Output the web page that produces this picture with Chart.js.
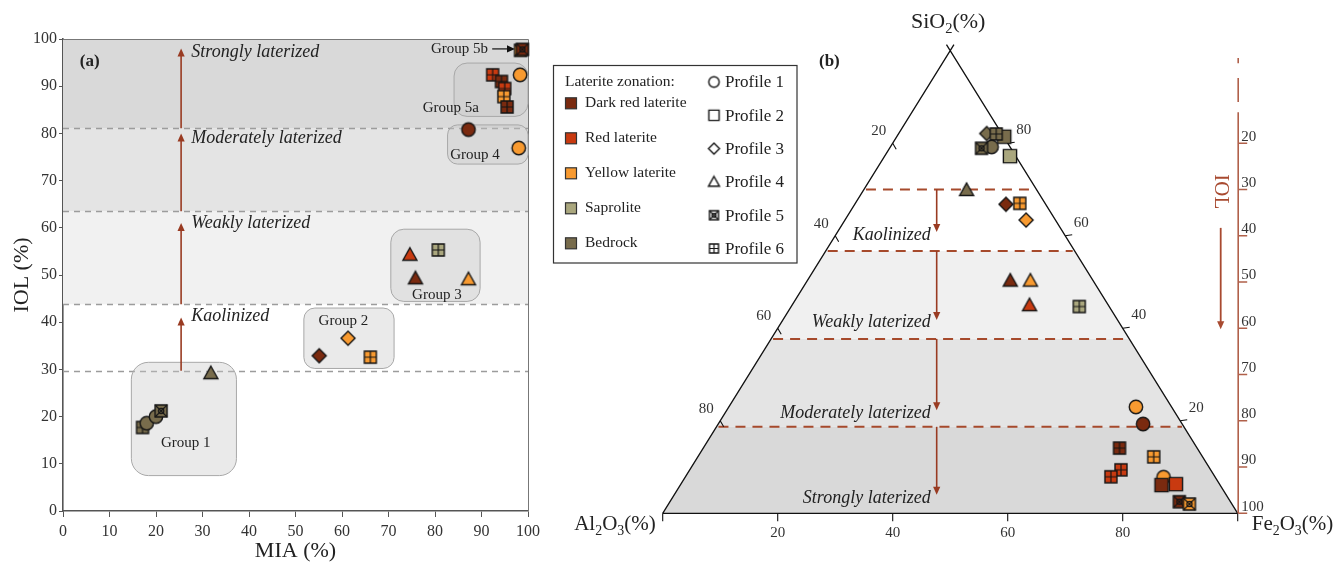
<!DOCTYPE html>
<html>
<head>
<meta charset="utf-8">
<script src="https://cdn.jsdelivr.net/npm/chart.js@4.4.1/dist/chart.umd.min.js"></script>
<style>
    body { margin: 0; background: #fff; }
    #wrap { position: relative; width: 1342px; height: 564px; }
    #boxA { position: absolute; left: 0; top: 0; width: 545px; height: 564px; }
    #boxB { position: absolute; left: 545px; top: 0; width: 797px; height: 564px; }
</style>
</head>
<body>
<div id="wrap">
    <div id="boxA"><canvas id="chartA"></canvas></div>
    <div id="boxB"><canvas id="chartB"></canvas></div>
</div>
<script>
const SERIF = '"Liberation Serif", "DejaVu Serif", serif';

// ---- legend categories ----
const zoneNames = ['Dark red laterite', 'Red laterite', 'Yellow laterite', 'Saprolite', 'Bedrock'];
const zoneColors = ['#7a2a0f', '#c93a10', '#f89a30', '#aaa77e', '#786c4c'];
const profileNames = ['Profile 1', 'Profile 2', 'Profile 3', 'Profile 4', 'Profile 5', 'Profile 6'];

// ---- (a) MIA vs IOL samples ----
const miaValues = [17.1, 18.0, 20.0, 21.1, 31.8, 55.1, 61.3, 66.1, 74.6, 80.7, 75.8, 87.2, 87.2, 98.0, 92.4, 94.3, 95.0, 94.8, 95.5, 98.3, 98.4, 98.8];
const iolValues = [17.7, 18.6, 20.0, 21.2, 29.2, 32.9, 36.6, 32.6, 54.3, 55.3, 49.3, 49.1, 80.8, 76.9, 92.4, 91.0, 89.5, 87.8, 85.6, 92.4, 97.6, 97.8];
const zoneA = [4, 4, 4, 4, 4, 0, 2, 2, 1, 3, 0, 2, 0, 2, 1, 0, 1, 2, 0, 2, 2, 0];
const profileA = [6, 1, 1, 5, 4, 3, 3, 6, 4, 6, 4, 4, 1, 1, 6, 6, 6, 6, 6, 1, 5, 5];

// ---- (b) ternary samples (SiO2, Fe2O3; Al2O3 is the rest) ----
const sio2Values = [81.4, 82.1, 82.0, 79.2, 78.9, 77.2, 69.9, 66.8, 67.0, 63.4, 50.3, 50.3, 45.0, 44.7, 23.0, 19.3, 14.1, 12.2, 9.4, 7.9, 7.8, 6.1, 6.3, 2.5, 2.0];
const fe2o3Values = [18.7, 15.3, 17.0, 17.6, 16.0, 21.8, 17.9, 26.3, 28.6, 31.5, 35.3, 38.8, 41.3, 50.1, 70.8, 73.9, 72.4, 79.3, 75.0, 74.0, 83.2, 83.7, 86.1, 88.6, 90.6];
const zoneB = [4, 4, 4, 4, 4, 3, 4, 0, 2, 2, 0, 2, 1, 3, 2, 0, 0, 2, 1, 1, 2, 0, 1, 0, 2];
const profileB = [2, 3, 6, 1, 5, 2, 4, 3, 6, 3, 4, 4, 4, 6, 1, 1, 6, 6, 6, 6, 1, 2, 2, 5, 5];

// ---- laterization zones (IOL %) ----
const zoneLabels = ['Kaolinized', 'Weakly laterized', 'Moderately laterized', 'Strongly laterized'];
const iolBoundsA = [29.7, 43.8, 63.5, 81.1];
const arrowEndsA = [41, 61, 80, 98];
const labelYA = [41.2, 61, 79, 97.2];
const iolBoundsB = [30, 43.3, 62.3, 81.3];
const arrowEndsB = [39.2, 58.2, 77.7, 96];
const labelYB = [39.8, 58.6, 78.3, 96.8];

const ternTicks = [20, 40, 60, 80];
const iolAxisTicks = [20, 30, 40, 50, 60, 70, 80, 90, 100];

// group outlines in panel (a), data units
const groupBoxes = [
    { label: 'Group 1', x0: 14.7, x1: 37.3, y0: 7.5, y1: 31.5, lx: 26.4, ly: 14.3, r: 17 },
    { label: 'Group 2', x0: 51.8, x1: 71.2, y0: 30.2, y1: 43.0, lx: 60.3, ly: 40.3, r: 11 },
    { label: 'Group 3', x0: 70.5, x1: 89.7, y0: 44.4, y1: 59.7, lx: 80.4, ly: 45.8, r: 13 },
    { label: 'Group 4', x0: 82.7, x1: 100, y0: 73.5, y1: 81.8, lx: 88.6, ly: 75.5, r: 10 },
    { label: 'Group 5a', x0: 84.1, x1: 100, y0: 83.6, y1: 94.9, lx: 83.4, ly: 85.4, r: 13 }
];

const BROWN = '#993b22';

/**
 * Build a marker image (profile shape filled with zone colour)
 */
function makeMarker(shape, fill, size) {
    const c = document.createElement('canvas');
    const dim = size + 4;
    c.width = c.height = dim;
    const g = c.getContext('2d');
    const m = dim / 2, h = size / 2;
    g.fillStyle = fill;
    g.strokeStyle = '#151515';
    g.lineWidth = 1.4;
    g.beginPath();
    let s = h - 1;
    if (shape === 1) {
        g.arc(m, m, h - 0.3, 0, Math.PI * 2);
    } else if (shape === 3) {
        g.moveTo(m, m - h); g.lineTo(m + h, m); g.lineTo(m, m + h); g.lineTo(m - h, m); g.closePath();
    } else if (shape === 4) {
        g.moveTo(m, m - h); g.lineTo(m + h, m + h * 0.78); g.lineTo(m - h, m + h * 0.78); g.closePath();
    } else {
        s = shape === 2 ? h - 0.4 : h - 1;
        g.rect(m - s, m - s, 2 * s, 2 * s);
    }
    g.fill();
    g.stroke();
    g.lineWidth = 1.2;
    if (shape === 6) {
        g.beginPath();
        g.moveTo(m, m - s); g.lineTo(m, m + s);
        g.moveTo(m - s, m); g.lineTo(m + s, m);
        g.stroke();
    } else if (shape === 5) {
        g.beginPath();
        g.moveTo(m - s, m - s); g.lineTo(m + s, m + s);
        g.moveTo(m + s, m - s); g.lineTo(m - s, m + s);
        g.stroke();
        g.beginPath();
        g.arc(m, m, s * 0.45, 0, Math.PI * 2);
        g.stroke();
    }
    return c;
}

function roundBox(ctx, x0, y0, x1, y1, r) {
    ctx.beginPath();
    ctx.moveTo(x0 + r, y0);
    ctx.arcTo(x1, y0, x1, y1, r);
    ctx.arcTo(x1, y1, x0, y1, r);
    ctx.arcTo(x0, y1, x0, y0, r);
    ctx.arcTo(x0, y0, x1, y0, r);
    ctx.closePath();
}

function arrow(ctx, x0, y0, x1, y1, color, lw) {
    const ang = Math.atan2(y1 - y0, x1 - x0);
    const hl = 8, hw = 3.6;
    ctx.strokeStyle = color;
    ctx.fillStyle = color;
    ctx.lineWidth = lw;
    ctx.setLineDash([]);
    ctx.beginPath();
    ctx.moveTo(x0, y0);
    ctx.lineTo(x1 - Math.cos(ang) * hl * 0.8, y1 - Math.sin(ang) * hl * 0.8);
    ctx.stroke();
    ctx.beginPath();
    ctx.moveTo(x1, y1);
    ctx.lineTo(x1 - Math.cos(ang) * hl - Math.sin(ang) * hw, y1 - Math.sin(ang) * hl + Math.cos(ang) * hw);
    ctx.lineTo(x1 - Math.cos(ang) * hl + Math.sin(ang) * hw, y1 - Math.sin(ang) * hl - Math.cos(ang) * hw);
    ctx.closePath();
    ctx.fill();
}

// text with subscripts: parts = [[text, isSub], ...]
function chemText(ctx, parts, x, y, size, align) {
    let w = 0;
    const widths = parts.map(([t, sub]) => {
        ctx.font = (sub ? size * 0.66 : size) + 'px ' + SERIF;
        const mw = ctx.measureText(t).width;
        w += mw;
        return mw;
    });
    let cx = align === 'center' ? x - w / 2 : align === 'right' ? x - w : x;
    ctx.textAlign = 'left';
    ctx.textBaseline = 'alphabetic';
    parts.forEach(([t, sub], i) => {
        ctx.font = (sub ? size * 0.66 : size) + 'px ' + SERIF;
        ctx.fillText(t, cx, sub ? y + size * 0.22 : y);
        cx += widths[i];
    });
}

/**
 * Panel (a) decorations: zone bands, dashed limits, arrows, group boxes
 */
const panelA = {
    id: 'panelA',
    beforeDatasetsDraw(chart) {
        const { ctx, chartArea: ca, scales: { x, y } } = chart;
        ctx.save();

        const bandFill = ['#f1f1f1', '#e4e4e4', '#d9d9d9'];
        for (let i = 1; i < 4; i++) {
            const top = y.getPixelForValue(i < 3 ? iolBoundsA[i + 1] : 100);
            const bot = y.getPixelForValue(iolBoundsA[i]);
            ctx.fillStyle = bandFill[i - 1];
            ctx.fillRect(ca.left, top, ca.width, bot - top);
        }

        // frame top / right
        ctx.strokeStyle = '#777';
        ctx.lineWidth = 1;
        ctx.beginPath();
        ctx.moveTo(ca.left, ca.top + 0.5);
        ctx.lineTo(ca.right + 0.5, ca.top + 0.5);
        ctx.lineTo(ca.right + 0.5, ca.bottom);
        ctx.stroke();

        // dashed zone limits
        ctx.strokeStyle = '#9c9c9c';
        ctx.lineWidth = 1.3;
        ctx.setLineDash([6, 5]);
        iolBoundsA.forEach(b => {
            const py = Math.round(y.getPixelForValue(b)) + 0.5;
            ctx.beginPath();
            ctx.moveTo(ca.left, py);
            ctx.lineTo(ca.right, py);
            ctx.stroke();
        });
        ctx.setLineDash([]);

        // group boxes
        groupBoxes.forEach(g => {
            roundBox(ctx, x.getPixelForValue(g.x0), y.getPixelForValue(g.y1),
                x.getPixelForValue(g.x1), y.getPixelForValue(g.y0), g.r);
            ctx.fillStyle = 'rgba(200,200,200,0.38)';
            ctx.fill();
            ctx.strokeStyle = '#a8a8a8';
            ctx.lineWidth = 1;
            ctx.stroke();
        });
        ctx.fillStyle = '#222';
        ctx.font = '15px ' + SERIF;
        ctx.textAlign = 'center';
        ctx.textBaseline = 'middle';
        groupBoxes.forEach(g => {
            ctx.fillText(g.label, x.getPixelForValue(g.lx), y.getPixelForValue(g.ly));
        });
        ctx.textAlign = 'right';
        ctx.fillText('Group 5b', x.getPixelForValue(91.4), y.getPixelForValue(97.9));
        arrow(ctx, x.getPixelForValue(92.3), y.getPixelForValue(97.9),
            x.getPixelForValue(97.2), y.getPixelForValue(97.9), '#111', 1.2);

        // laterization arrows and labels
        const ax = x.getPixelForValue(25.4);
        iolBoundsA.forEach((b, i) => {
            arrow(ctx, ax, y.getPixelForValue(b), ax, y.getPixelForValue(arrowEndsA[i]), BROWN, 1.6);
        });
        ctx.fillStyle = '#222';
        ctx.font = 'italic 18px ' + SERIF;
        ctx.textAlign = 'left';
        zoneLabels.forEach((t, i) => {
            ctx.fillText(t, x.getPixelForValue(27.6), y.getPixelForValue(labelYA[i]));
        });

        ctx.font = 'bold 17px ' + SERIF;
        ctx.fillText('(a)', x.getPixelForValue(3.6), y.getPixelForValue(95.2));
        ctx.restore();
    }
};

/**
 * Panel (b) decorations: ternary frame, zones, IOL scale, legend
 */
const panelB = {
    id: 'panelB',
    beforeDatasetsDraw(chart) {
        const { ctx, scales: { x, y } } = chart;
        const px = v => x.getPixelForValue(v);
        const py = v => y.getPixelForValue(v);
        const A = [px(0), py(0)], F = [px(100), py(0)], S = [px(50), py(100)];
        ctx.save();

        // zone bands inside the triangle
        ctx.save();
        ctx.beginPath();
        ctx.moveTo(A[0], A[1]); ctx.lineTo(F[0], F[1]); ctx.lineTo(S[0], S[1]); ctx.closePath();
        ctx.clip();
        const fills = ['#f0f0f0', '#e4e4e4', '#d9d9d9'];
        for (let i = 1; i < 4; i++) {
            const top = py(100 - iolBoundsB[i]);
            const bot = i < 3 ? py(100 - iolBoundsB[i + 1]) : py(0);
            ctx.fillStyle = fills[i - 1];
            ctx.fillRect(A[0], top, F[0] - A[0], bot - top);
        }
        ctx.restore();

        // dashed limits
        ctx.strokeStyle = '#a64a2c';
        ctx.lineWidth = 2;
        ctx.setLineDash([10, 7]);
        iolBoundsB.forEach(b => {
            const s = 100 - b;
            ctx.beginPath();
            ctx.moveTo(px(s / 2) + 2, py(s));
            ctx.lineTo(px(100 - s / 2) - 2, py(s));
            ctx.stroke();
        });
        ctx.setLineDash([]);

        // triangle edges (extended a little past the apex)
        ctx.strokeStyle = '#111';
        ctx.lineWidth = 1.3;
        const ext = 0.013;
        ctx.beginPath();
        ctx.moveTo(A[0], A[1]); ctx.lineTo(F[0], F[1]);
        ctx.moveTo(A[0], A[1]); ctx.lineTo(S[0] + (S[0] - A[0]) * ext, S[1] + (S[1] - A[1]) * ext);
        ctx.moveTo(F[0], F[1]); ctx.lineTo(S[0] + (S[0] - F[0]) * ext, S[1] + (S[1] - F[1]) * ext);
        ctx.stroke();

        // edge ticks
        ctx.lineWidth = 1.1;
        ctx.beginPath();
        [0, 20, 40, 60, 80, 100].forEach(v => {
            ctx.moveTo(px(v), py(0)); ctx.lineTo(px(v), py(0) + 8);
        });
        ternTicks.forEach(v => {
            const ls = 100 - v;
            const lx = px(ls / 2), ly = py(ls);
            ctx.moveTo(lx, ly); ctx.lineTo(lx + 3.5, ly + 6);
            const rx = px(100 - v / 2), ry = py(v);
            ctx.moveTo(rx, ry); ctx.lineTo(rx + 7, ry - 1);
        });
        ctx.stroke();

        ctx.fillStyle = '#333';
        ctx.font = '15px ' + SERIF;
        ctx.textAlign = 'center';
        ctx.textBaseline = 'middle';
        ternTicks.forEach(v => {
            ctx.fillText(String(v), px(v), py(0) + 20);
            const ls = 100 - v;
            ctx.fillText(String(v), px(ls / 2) - 14, py(ls) - 12);
            ctx.fillText(String(v), px(100 - v / 2) + 16, py(v) - 13);
        });

        // zone arrows and labels
        const ax = px(47.65);
        iolBoundsB.forEach((b, i) => {
            arrow(ctx, ax, py(100 - b), ax, py(100 - arrowEndsB[i]), BROWN, 1.6);
        });
        ctx.fillStyle = '#222';
        ctx.font = 'italic 18px ' + SERIF;
        ctx.textAlign = 'right';
        zoneLabels.forEach((t, i) => {
            ctx.fillText(t, px(46.6), py(100 - labelYB[i]));
        });

        // IOL scale on the right
        const iolColor = '#b0604a';
        const ix = px(100) + 0.5;
        ctx.strokeStyle = iolColor;
        ctx.lineWidth = 1.6;
        ctx.beginPath();
        [[1.6, 2.7], [5.9, 11.1], [13.3, 100]].forEach(([a, b]) => {
            ctx.moveTo(ix, py(100 - a)); ctx.lineTo(ix, py(100 - b));
        });
        iolAxisTicks.forEach(v => {
            ctx.moveTo(ix, py(100 - v)); ctx.lineTo(ix + 9, py(100 - v));
        });
        ctx.stroke();
        ctx.fillStyle = '#333';
        ctx.font = '15px ' + SERIF;
        ctx.textAlign = 'left';
        ctx.textBaseline = 'bottom';
        iolAxisTicks.forEach(v => {
            ctx.fillText(String(v), ix + 3, py(100 - v) + 1);
        });
        arrow(ctx, ix - 17.5, py(100 - 38.3), ix - 17.5, py(100 - 60.2), '#a84a30', 1.8);
        ctx.save();
        ctx.translate(ix - 18, py(100 - 30.5));
        ctx.rotate(Math.PI / 2);
        ctx.fillStyle = '#a84a30';
        ctx.font = '21px ' + SERIF;
        ctx.textAlign = 'center';
        ctx.textBaseline = 'middle';
        ctx.fillText('IOL', 0, 0);
        ctx.restore();

        // corner titles
        ctx.fillStyle = '#222';
        chemText(ctx, [['SiO', false], ['2', true], ['(%)', false]], S[0] - 2, 28, 22, 'center');
        chemText(ctx, [['Al', false], ['2', true], ['O', false], ['3', true], ['(%)', false]], A[0] - 7, 530, 21, 'right');
        chemText(ctx, [['Fe', false], ['2', true], ['O', false], ['3', true], ['(%)', false]], F[0] + 14, 530, 21, 'left');

        ctx.font = 'bold 17px ' + SERIF;
        ctx.textAlign = 'left';
        ctx.textBaseline = 'middle';
        ctx.fillText('(b)', 274, 62);
        ctx.restore();
    },
    afterDraw(chart) {
        const ctx = chart.ctx;
        ctx.save();
        ctx.strokeStyle = '#333';
        ctx.lineWidth = 1.2;
        ctx.strokeRect(8.5, 65.5, 243.5, 197.5);
        ctx.fillStyle = '#222';
        ctx.textAlign = 'left';
        ctx.textBaseline = 'middle';
        ctx.font = '15.5px ' + SERIF;
        ctx.fillText('Laterite zonation:', 20, 82);
        zoneNames.forEach((n, i) => {
            const yy = 103.3 + 35 * i;
            ctx.fillStyle = zoneColors[i];
            ctx.fillRect(20.5, yy - 5.5, 11, 11);
            ctx.lineWidth = 1.2;
            ctx.strokeRect(20.5, yy - 5.5, 11, 11);
            ctx.fillStyle = '#222';
            ctx.fillText(n, 40, yy);
        });
        ctx.font = '17px ' + SERIF;
        profileNames.forEach((n, i) => {
            const yy = 82 + 33.3 * i;
            ctx.drawImage(makeMarker(i + 1, '#fff', 11), 169 - 7.5, yy - 7.5);
            ctx.fillText(n, 180, yy + 1);
        });
        ctx.restore();
    }
};

const chartA = new Chart(document.getElementById('chartA'), {
    type: 'scatter',
    data: {
        datasets: [{
            data: miaValues.map((v, i) => ({ x: v, y: iolValues[i] })),
            pointStyle: profileA.map((p, i) => makeMarker(p, zoneColors[zoneA[i]], 14)),
            pointRadius: 7,
            clip: false
        }]
    },
    options: {
        responsive: true,
        maintainAspectRatio: false,
        animation: false,
        layout: { padding: { top: 39, right: 13, left: 0, bottom: 0 } },
        plugins: { legend: { display: false }, tooltip: { enabled: false } },
        scales: {
            x: {
                type: 'linear', min: 0, max: 100,
                ticks: { stepSize: 10, color: '#333', font: { family: SERIF, size: 16 }, padding: 5 },
                grid: { drawOnChartArea: false, drawTicks: true, tickLength: 6, color: '#555' },
                border: { color: '#555', width: 1.6 },
                title: { display: true, text: 'MIA (%)', color: '#222', font: { family: SERIF, size: 22 }, padding: { top: 0, bottom: 0 } },
                afterFit(s) { s.height = 53; }
            },
            y: {
                type: 'linear', min: 0, max: 100,
                ticks: { stepSize: 10, color: '#333', font: { family: SERIF, size: 16 }, padding: 2 },
                grid: { drawOnChartArea: false, drawTicks: true, tickLength: 4, color: '#555' },
                border: { color: '#555', width: 1.6 },
                title: { display: true, text: 'IOL (%)', color: '#222', font: { family: SERIF, size: 22 }, padding: { top: 9, bottom: 0 } },
                afterFit(s) { s.width = 63; }
            }
        }
    },
    plugins: [panelA]
});

const chartB = new Chart(document.getElementById('chartB'), {
    type: 'scatter',
    data: {
        datasets: [{
            data: sio2Values.map((s, i) => ({ x: fe2o3Values[i] + s / 2, y: s })),
            pointStyle: profileB.map((p, i) => makeMarker(p, zoneColors[zoneB[i]], 14)),
            pointRadius: 7,
            clip: false
        }]
    },
    options: {
        responsive: true,
        maintainAspectRatio: false,
        animation: false,
        layout: { padding: { top: 50.7, right: 104.3, left: 117.7, bottom: 50.7 } },
        plugins: { legend: { display: false }, tooltip: { enabled: false } },
        scales: {
            x: { type: 'linear', min: 0, max: 100, display: false },
            y: { type: 'linear', min: 0, max: 100, display: false }
        }
    },
    plugins: [panelB]
});
</script>
</body>
</html>
